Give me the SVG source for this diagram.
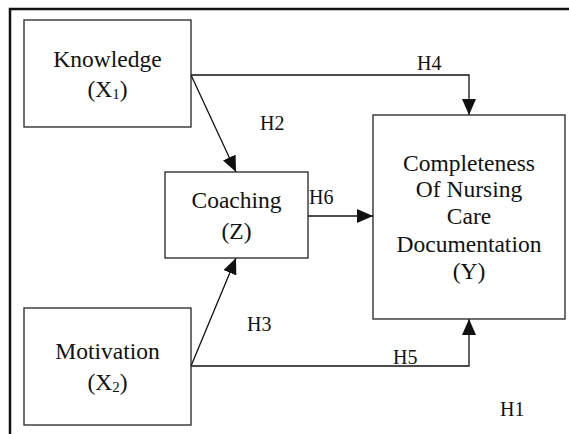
<svg xmlns="http://www.w3.org/2000/svg" width="569" height="434" viewBox="0 0 569 434">
<style>
.box{fill:#fff;stroke:#222;stroke-width:1.3}
text{font-family:'Liberation Serif','Times New Roman','DejaVu Serif',serif;fill:#111}
.t{font-size:23.5px;text-anchor:middle}
.h{font-size:20px}
.c{fill:none;stroke:#111;stroke-width:1.3}
</style>
<defs>
<marker id="ah" viewBox="0 0 16 14" refX="16" refY="7" markerWidth="16" markerHeight="14" markerUnits="userSpaceOnUse" orient="auto">
<path d="M0,0 L16,7 L0,14 z" fill="#111"/>
</marker>
</defs>
<rect width="569" height="434" fill="#fff"/>
<path d="M10,434 L10,9 L569,9" fill="none" stroke="#111" stroke-width="2.5"/>
<g id="connectors">
<path class="c" d="M191,75 L469,75 L469,115" marker-end="url(#ah)"/>
<path class="c" d="M191,75 L236,172" marker-end="url(#ah)"/>
<path class="c" d="M308,216 L373,216" marker-end="url(#ah)"/>
<path class="c" d="M191,366 L236,258" marker-end="url(#ah)"/>
<path class="c" d="M191,366 L469,366 L469,319" marker-end="url(#ah)"/>
<text class="h" x="260" y="130">H2</text>
<text class="h" x="417" y="70">H4</text>
<text class="h" x="309" y="204">H6</text>
<text class="h" x="247" y="331">H3</text>
<text class="h" x="393" y="364">H5</text>
<text class="h" x="500" y="416">H1</text>
</g>
<g id="knowledge">
<rect class="box" x="24" y="20" width="167" height="107"/>
<text class="t" x="107.5" y="67">Knowledge</text>
<text class="t" x="107.5" y="97">(X<tspan font-size="15" dy="2">1</tspan><tspan dy="-2">)</tspan></text>
</g>
<g id="coaching">
<rect class="box" x="165" y="172" width="143" height="86"/>
<text class="t" x="236.5" y="208">Coaching</text>
<text class="t" x="236.5" y="239">(Z)</text>
</g>
<g id="motivation">
<rect class="box" x="24" y="308" width="167" height="117"/>
<text class="t" x="107.5" y="359">Motivation</text>
<text class="t" x="107.5" y="390">(X<tspan font-size="15" dy="2">2</tspan><tspan dy="-2">)</tspan></text>
</g>
<g id="completeness">
<rect class="box" x="373" y="115" width="192" height="204"/>
<text class="t" x="469" y="171">Completeness</text>
<text class="t" x="469" y="197">Of Nursing</text>
<text class="t" x="469" y="224">Care</text>
<text class="t" x="469" y="252">Documentation</text>
<text class="t" x="469" y="279">(Y)</text>
</g>
</svg>
